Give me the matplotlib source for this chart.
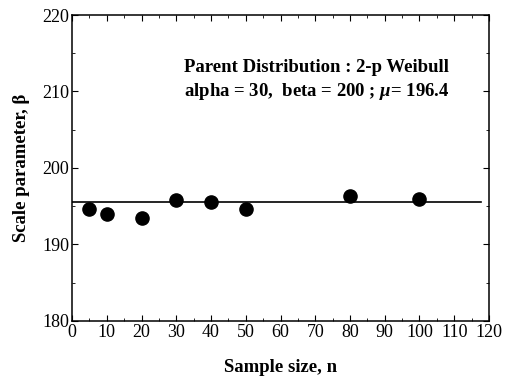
import matplotlib
matplotlib.use("Agg")
import matplotlib.pyplot as plt
from matplotlib.ticker import MultipleLocator

plt.rcParams['font.family'] = 'Liberation Serif'
plt.rcParams['mathtext.fontset'] = 'custom'
plt.rcParams['mathtext.rm'] = 'Liberation Serif:bold'
plt.rcParams['mathtext.it'] = 'Liberation Serif:italic:bold'
plt.rcParams['mathtext.bf'] = 'Liberation Serif:bold'

# estimated scale parameter vs sample size
sample_size = [5, 10, 20, 30, 40, 50, 80, 100]
scale_est = [194.7, 194.0, 193.4, 195.8, 195.5, 194.6, 196.3, 196.0]
# reference line
line_x = [0, 117.7]
line_y = [195.5, 195.5]

fig = plt.figure(figsize=(5.05, 3.76), dpi=100)
ax = fig.add_axes([0.1426, 0.1463, 0.8257, 0.8138])

ax.plot(line_x, line_y, color='black', lw=1.2)
ax.scatter(sample_size, scale_est, s=90, color='black', zorder=3)

ax.set_xlim(0, 120)
ax.set_ylim(180, 220)
ax.xaxis.set_major_locator(MultipleLocator(10))
ax.xaxis.set_minor_locator(MultipleLocator(5))
ax.yaxis.set_major_locator(MultipleLocator(10))
ax.yaxis.set_minor_locator(MultipleLocator(5))
ax.tick_params(which='both', direction='in', top=True, right=True, labelsize=13, pad=2)
ax.tick_params(which='major', length=4)
ax.tick_params(which='minor', length=2.5)
for s in ax.spines.values():
    s.set_linewidth(1.1)

ax.set_xlabel('Sample size, n', fontsize=13.5, fontweight='bold', labelpad=13)
ax.set_ylabel('Scale parameter, β', fontsize=13.5, fontweight='bold', labelpad=9)

ax.text(184 / 505, 1 - 67 / 376, 'Parent Distribution : 2-p Weibull',
        transform=fig.transFigure, fontsize=13.5, fontweight='bold', va='center')
ax.text(184 / 505, 1 - 91 / 376, r'alpha = 30,  beta = 200 ; $\mu$= 196.4',
        transform=fig.transFigure, fontsize=13.5, fontweight='bold', va='center')

fig.savefig('out.png', dpi=100)
